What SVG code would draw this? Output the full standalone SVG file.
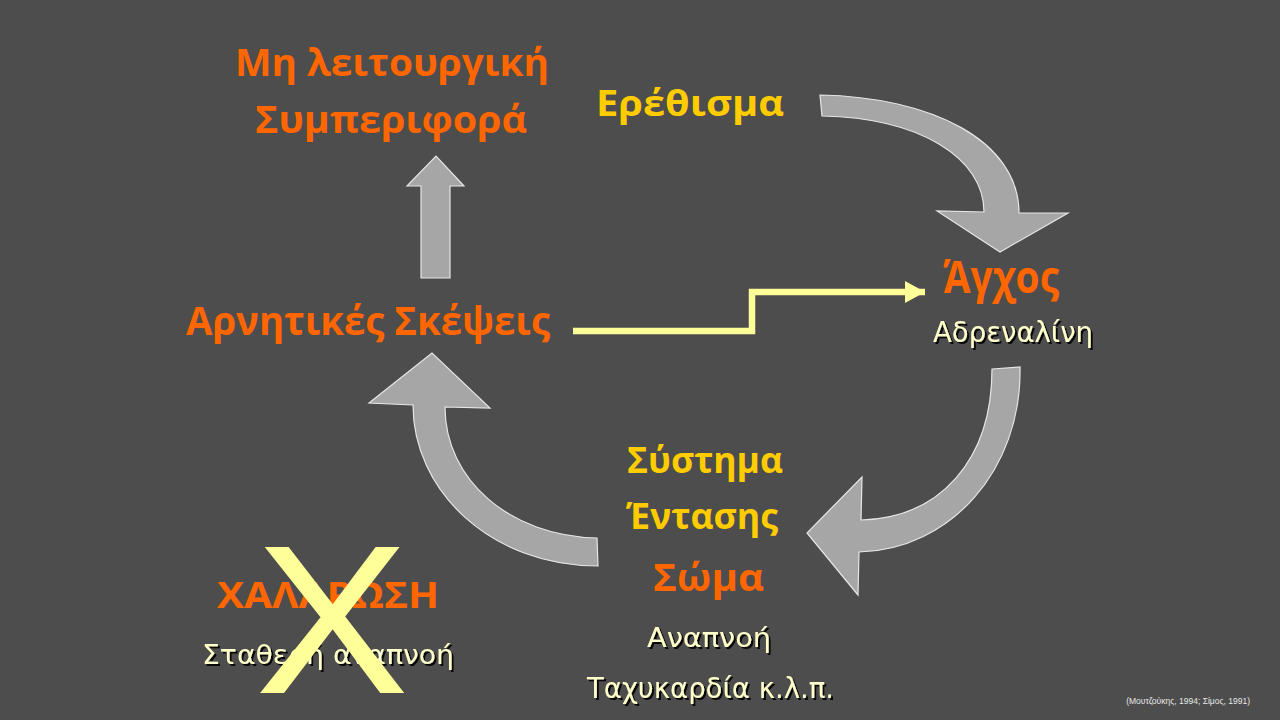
<svg xmlns="http://www.w3.org/2000/svg" width="1280" height="720" viewBox="0 0 1280 720">
<defs>
<style>
.arrow{fill:#A6A6A6;stroke:#E6E6E6;stroke-width:1.2;stroke-linejoin:miter}
.or{font-family:"Open Sans","Liberation Sans",sans-serif;font-weight:bold;fill:#FF6600}
.gd{font-family:"Open Sans","Liberation Sans",sans-serif;font-weight:bold;fill:#FFCC00}
.cr{font-family:"DejaVu Sans","Liberation Sans",sans-serif;fill:#FFFFCC;filter:url(#sh)}
.conn{fill:none;stroke:#FFFF99;stroke-width:6.5}
</style>
<filter id="sh" x="-10%" y="-30%" width="120%" height="160%">
<feDropShadow dx="2" dy="2" stdDeviation="0.6" flood-color="#000" flood-opacity="0.9"/>
</filter>
<marker id="ah" markerUnits="userSpaceOnUse" markerWidth="22" markerHeight="22" refX="20" refY="11" orient="auto">
<path d="M0,0 L20,11 L0,22 Z" fill="#FFFF99"/>
</marker>
</defs>
<rect width="1280" height="720" fill="#4D4D4D"/>

<g id="connectors">
<path id="arrow-top-right" class="arrow" d="M820,95 C930,97 1019,140 1019,213 L1068,213 L1000,252 L937,211 L984,212 C984,158 920,118 822,116 Z"/>
<path id="arrow-bottom-right" class="arrow" d="M992,369 L1020,367 C1022,470 950,550 859,552 L858,595 L807,533 L862,477 L861,520 C940,518 992,460 992,369 Z"/>
<path id="arrow-bottom-left" class="arrow" d="M413,405 C413,490 490,566 598,566 L597,538 C510,536 445,480 445,407 L490,408 L432,353 L369,403 Z"/>
<path id="arrow-up" class="arrow" d="M421,278 L421,186 L407,186 L436,156 L464,186 L450,186 L450,278 Z"/>
<path id="conn-thoughts-anxiety" class="conn" d="M573,331 L752,331 L752,292 L925,292" marker-end="url(#ah)"/>
</g>

<g id="node-behaviour">
<text class="or" x="235" y="76" font-size="38" textLength="314" lengthAdjust="spacingAndGlyphs">Μη λειτουργική</text>
<text class="or" x="255" y="133" font-size="38" textLength="272" lengthAdjust="spacingAndGlyphs">Συμπεριφορά</text>
</g>

<g id="node-stimulus">
<text class="gd" x="596" y="116" font-size="36" textLength="188" lengthAdjust="spacingAndGlyphs">Ερέθισμα</text>
</g>

<g id="node-anxiety">
<text class="or" x="943" y="293" font-size="44" textLength="116" lengthAdjust="spacingAndGlyphs">Άγχος</text>
<text class="cr" x="933" y="342" font-size="28" textLength="160" lengthAdjust="spacingAndGlyphs">Αδρεναλίνη</text>
</g>

<g id="node-thoughts">
<text class="or" x="186" y="335" font-size="40" textLength="364" lengthAdjust="spacingAndGlyphs">Αρνητικές Σκέψεις</text>
</g>

<g id="node-body">
<text class="gd" x="627" y="473" font-size="35" textLength="156" lengthAdjust="spacingAndGlyphs">Σύστημα</text>
<text class="gd" x="626" y="529" font-size="35" textLength="152" lengthAdjust="spacingAndGlyphs">Έντασης</text>
<text class="or" x="653" y="591" font-size="38" textLength="111" lengthAdjust="spacingAndGlyphs">Σώμα</text>
<text class="cr" x="647" y="647" font-size="26" textLength="124" lengthAdjust="spacingAndGlyphs">Αναπνοή</text>
<text class="cr" x="587" y="698" font-size="28" textLength="247" lengthAdjust="spacingAndGlyphs">Ταχυκαρδία κ.λ.π.</text>
</g>

<g id="node-relaxation">
<text class="or" x="217" y="608" font-size="36" textLength="222" lengthAdjust="spacingAndGlyphs">ΧΑΛΑΡΩΣΗ</text>
<text class="cr" x="202" y="664" font-size="27" textLength="252" lengthAdjust="spacingAndGlyphs">Σταθερή αναπνοή</text>
<text x="255" y="693" font-family="Liberation Sans, Arial, sans-serif" font-size="211" fill="#FFFF99" textLength="154" lengthAdjust="spacingAndGlyphs">X</text>
</g>

<text x="1250" y="704" font-family="Liberation Sans, Arial, sans-serif" font-size="8.5" text-anchor="end" fill="#E8E8E8">(Μουτζούκης, 1994;  Σίμος, 1991)</text>
</svg>
